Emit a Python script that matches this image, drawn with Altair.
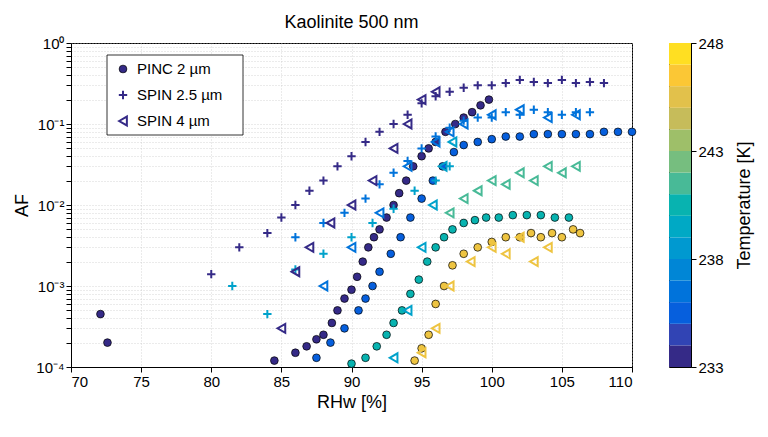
import altair as alt
import pandas as pd

# PINC 2 um (circles)
pinc_rh = [72.1, 72.6, 84.5, 86.0, 86.8, 87.5, 88.0, 88.6, 89.0, 89.5, 90.0, 90.4, 90.8, 91.2, 91.6, 92.0, 92.5, 93.0, 93.4, 93.9, 94.4, 95.0, 95.5, 96.0, 96.7, 97.4, 98.0, 98.6, 99.2, 99.8,
           87.5, 88.5, 89.5, 90.5, 91.0, 91.5, 92.0, 92.8, 93.5, 94.2, 95.0, 95.8, 96.5, 97.3, 98.0, 99.0, 100.0, 101.0, 102.0, 103.0, 104.0, 105.0, 106.0, 107.0, 108.0, 109.0, 110.0,
           90.0, 91.0, 91.8, 92.5, 93.0, 93.6, 94.2, 94.8, 95.4, 96.0, 96.6, 97.2, 98.0, 98.8, 99.6, 100.5, 101.5, 102.5, 103.5, 104.5, 105.5,
           94.5, 95.0, 95.5, 96.0, 96.6, 97.2, 98.0, 99.0, 100.0, 101.0, 102.0, 102.8, 103.5, 104.3, 105.0, 105.8, 106.3]
pinc_af = [4.5e-4, 2e-4, 1.2e-4, 1.5e-4, 1.8e-4, 2.2e-4, 2.5e-4, 3.5e-4, 5e-4, 7e-4, 9e-4, 1.3e-3, 2e-3, 3e-3, 4e-3, 5e-3, 7e-3, 1e-2, 1.4e-2, 2e-2, 3e-2, 4e-2, 5e-2, 6e-2, 8e-2, 0.1, 0.12, 0.14, 0.17, 0.2,
           1.3e-4, 2e-4, 3e-4, 5e-4, 7e-4, 1e-3, 1.5e-3, 2.5e-3, 4e-3, 7e-3, 1.2e-2, 2e-2, 3e-2, 4.5e-2, 5.5e-2, 6e-2, 6.5e-2, 7e-2, 7e-2, 7.5e-2, 7.5e-2, 7.5e-2, 7.5e-2, 7.5e-2, 8e-2, 8e-2, 8e-2,
           1.1e-4, 1.3e-4, 1.8e-4, 2.5e-4, 3.5e-4, 5e-4, 8e-4, 1.2e-3, 2e-3, 3e-3, 4e-3, 5e-3, 6e-3, 6.5e-3, 7e-3, 7e-3, 7.5e-3, 7.5e-3, 7.5e-3, 7e-3, 7e-3,
           1.2e-4, 1.7e-4, 2.5e-4, 6e-4, 1e-3, 1.8e-3, 2.5e-3, 3e-3, 3.5e-3, 4e-3, 4e-3, 4.5e-3, 4e-3, 4.5e-3, 4e-3, 5e-3, 4.5e-3]
pinc_t = [233] * 30 + [235] * 27 + [240] * 21 + [245.5] * 17

# SPIN 2.5 um (plus)
spin25_rh = [80.0, 82.0, 84.0, 85.0, 86.0, 87.0, 88.0, 89.0, 90.0, 91.0, 92.0, 93.0, 94.0, 95.0, 96.0, 97.0, 98.0, 99.0, 100.0, 101.0, 102.0, 103.0, 104.0, 105.0, 106.0, 107.0, 108.0,
             86.0, 88.0, 89.5, 91.0, 92.0, 93.0, 94.0, 95.0, 96.0, 97.0, 98.0, 99.0, 100.0, 101.0, 102.0, 103.0, 104.0, 105.0, 106.0, 107.0,
             81.5, 84.0, 86.0, 88.0, 90.0, 91.5, 93.0, 94.5, 96.0, 97.0]
spin25_af = [1.4e-3, 3e-3, 4.5e-3, 7e-3, 1e-2, 1.5e-2, 2e-2, 3e-2, 4e-2, 6e-2, 8e-2, 0.1, 0.13, 0.18, 0.22, 0.25, 0.28, 0.3, 0.3, 0.32, 0.35, 0.33, 0.32, 0.35, 0.32, 0.33, 0.32,
             4e-3, 6e-3, 8e-3, 1.2e-2, 1.8e-2, 2.5e-2, 3.5e-2, 5e-2, 7e-2, 9e-2, 0.11, 0.12, 0.12, 0.14, 0.13, 0.15, 0.14, 0.13, 0.14, 0.14,
             1e-3, 4.5e-4, 1.6e-3, 2.5e-3, 4e-3, 6e-3, 9e-3, 1.5e-2, 2e-2, 3e-2]
spin25_t = [233] * 27 + [236] * 20 + [238.5] * 10

# SPIN 4 um (triangles)
spin4_rh = [85.0, 86.0, 87.0, 88.5, 90.0, 91.5, 93.0, 94.0, 95.0, 96.0,
            88.0, 90.0, 92.0, 94.0, 96.0, 97.0, 98.0, 100.0, 102.0, 104.0, 106.0,
            93.0, 94.0, 95.0, 95.8, 96.5, 97.2,
            97.0, 98.0, 99.0, 100.0, 101.0, 102.0, 103.0, 104.0, 105.0, 106.0,
            95.0, 96.0, 97.0, 98.5, 100.0, 101.0, 102.0, 103.0, 104.0]
spin4_af = [3e-4, 1.5e-3, 3e-3, 6e-3, 1e-2, 2e-2, 5e-2, 0.1, 0.2, 0.25,
            1e-3, 3e-3, 8e-3, 3e-2, 6e-2, 8e-2, 0.1, 0.13, 0.15, 0.12, 0.13,
            1.3e-4, 5e-4, 3e-3, 1e-2, 3e-2, 6e-2,
            8e-3, 1.2e-2, 1.5e-2, 2e-2, 1.8e-2, 2.5e-2, 2e-2, 3e-2, 2.5e-2, 3e-2,
            1.5e-4, 3e-4, 1e-3, 2e-3, 3e-3, 2.5e-3, 4e-3, 2e-3, 3e-3]
spin4_t = [233] * 10 + [236] * 11 + [238.5] * 6 + [241] * 10 + [245.5] * 9

parula = ["#352a87", "#0f5cdd", "#1481d6", "#06a4ca", "#2eb7a4", "#87bf77", "#d1bb59", "#fec832", "#f9fb0e"]
temps = list(range(233, 248))

df = pd.concat([
    pd.DataFrame({"rh": pinc_rh, "af": pinc_af, "t": pinc_t, "inst": "PINC"}),
    pd.DataFrame({"rh": spin25_rh, "af": spin25_af, "t": spin25_t, "inst": "SPIN25"}),
    pd.DataFrame({"rh": spin4_rh, "af": spin4_af, "t": spin4_t, "inst": "SPIN4"}),
])

font = "Liberation Sans"
PLUS = "M-1,0L1,0M0,-1L0,1"
minor = [m * 10 ** e for e in range(-4, 0) for m in range(1, 10)] + [1]
xs = alt.X("rh:Q", scale=alt.Scale(domain=[70, 110]),
           axis=alt.Axis(values=list(range(70, 111, 5)), title="RHw [%]", gridDash=[1, 2]))
ys = alt.Y("af:Q", scale=alt.Scale(type="log", domain=[1e-4, 1]),
           axis=alt.Axis(values=minor, title="AF", gridDash=[1, 2], labelFontSize=15,
                         labelExpr="indexof(['0.0001','0.001','0.01','0.1','1'], datum.label) >= 0 ? '10' + ({'0.0001':'⁻⁴','0.001':'⁻³','0.01':'⁻²','0.1':'⁻¹','1':'⁰'})[datum.label] : ''"))
col = alt.Color("t:Q", scale=alt.Scale(domain=[233, 248], range=parula), legend=None)

base = alt.Chart(df).encode(x=xs, y=ys, color=col)
pinc = base.transform_filter("datum.inst=='PINC'").mark_point(
    shape="circle", filled=True, size=60, stroke="black", strokeWidth=0.7, opacity=1)
s25 = base.transform_filter("datum.inst=='SPIN25'").mark_point(
    shape=PLUS, filled=False, size=70, strokeWidth=2, opacity=1)
s4 = base.transform_filter("datum.inst=='SPIN4'").mark_point(
    shape="triangle-left", filled=False, size=80, strokeWidth=2, opacity=1)

leg = pd.DataFrame({"lx": [52, 52, 52], "ly": [26, 52, 78], "tx": [66, 66, 66],
                    "lab": ["PINC 2 µm", "SPIN 2.5 µm", "SPIN 4 µm"]})
box = alt.Chart(pd.DataFrame({"a": [1]})).mark_rect(fill="white", stroke="black", strokeWidth=0.8).encode(
    x=alt.value(36), x2=alt.value(172), y=alt.value(12), y2=alt.value(92))
lp1 = alt.Chart(leg.iloc[[0]]).mark_point(shape="circle", filled=True, size=60, fill="#352a87",
                                          stroke="black", strokeWidth=0.7, opacity=1).encode(
    x=alt.X("lx:Q", scale=None), y=alt.Y("ly:Q", scale=None))
lp2 = alt.Chart(leg.iloc[[1]]).mark_point(shape=PLUS, size=70, strokeWidth=2, color="#352a87", opacity=1).encode(
    x=alt.X("lx:Q", scale=None), y=alt.Y("ly:Q", scale=None))
lp3 = alt.Chart(leg.iloc[[2]]).mark_point(shape="triangle-left", size=80, strokeWidth=2, color="#352a87", opacity=1).encode(
    x=alt.X("lx:Q", scale=None), y=alt.Y("ly:Q", scale=None))
lt = alt.Chart(leg).mark_text(align="left", fontSize=15, font=font).encode(
    x=alt.X("tx:Q", scale=None), y=alt.Y("ly:Q", scale=None), text="lab:N")

main = alt.layer(pinc, s25, s4, box, lp1, lp2, lp3, lt).properties(
    width=561, height=324, title=alt.Title("Kaolinite 500 nm", fontSize=18, fontWeight="normal", font=font, offset=4))

cb = alt.Chart(pd.DataFrame({"t": temps, "t2": [v + 1 for v in temps]})).mark_rect().encode(
    y=alt.Y("t:Q", scale=alt.Scale(domain=[233, 248]),
            axis=alt.Axis(orient="right", values=[233, 238, 243, 248], title="Temperature [K]",
                          grid=False, titleAngle=270, titlePadding=30)),
    y2="t2:Q",
    color=alt.Color("t:Q", scale=alt.Scale(domain=[233, 248], range=parula), legend=None),
).properties(width=22, height=324)

chart = alt.hconcat(main, cb, spacing=30).configure_view(stroke="black").configure_axis(
    labelFont=font, titleFont=font, labelFontSize=15, titleFontSize=18, titleFontWeight="normal",
    labelColor="black", titleColor="black", domainColor="black", tickColor="black", gridColor="#bbb", gridOpacity=0.6)
chart.save("out.html", embed_options={"renderer": "svg", "actions": False})
